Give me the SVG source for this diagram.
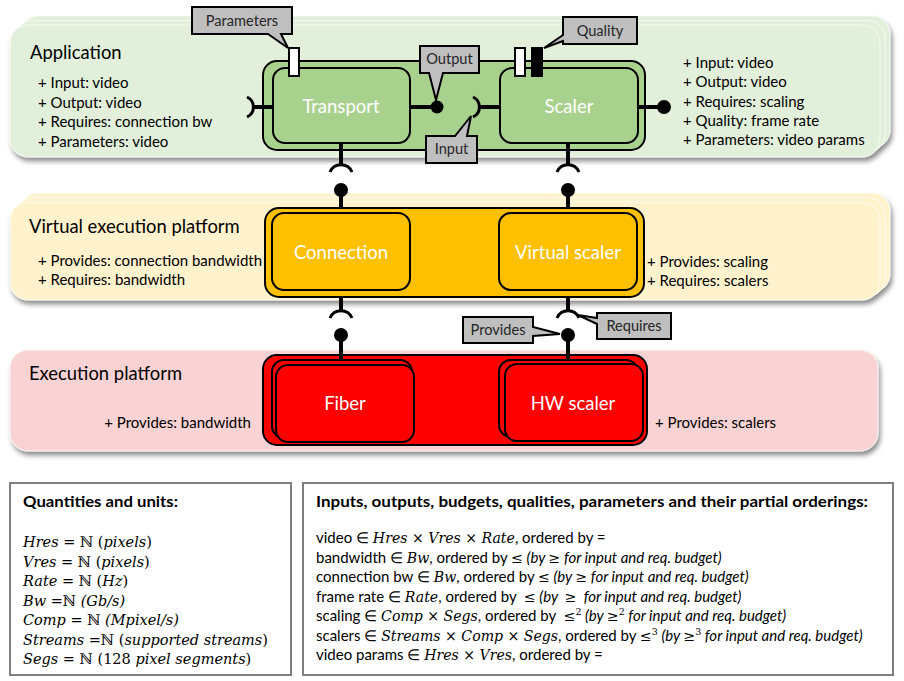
<svg xmlns="http://www.w3.org/2000/svg" width="904" height="681" viewBox="0 0 904 681">
<defs>
<filter id="sh" x="-5%" y="-10%" width="112%" height="130%">
<feDropShadow dx="2" dy="4" stdDeviation="2.5" flood-color="#000" flood-opacity="0.45"/>
</filter>
</defs>
<style>
text{font-family:Lato,"Liberation Sans",sans-serif;fill:#000}
.h{font-size:18.4px}
.t{font-size:15px}
.nl{font-size:18.5px;fill:#fff;text-anchor:middle}
.cl{font-size:14.6px;fill:#262626;text-anchor:middle}
.m{font-family:"DejaVu Serif","Liberation Serif",serif;font-size:14.5px}
.i{font-style:italic}
.mi{font-family:"DejaVu Serif","Liberation Serif",serif;font-style:italic;font-size:14.1px}
.mu{font-family:"DejaVu Serif","Liberation Serif",serif;font-style:normal;font-size:14.1px}
.sup{font-family:"DejaVu Serif","Liberation Serif",serif;font-style:normal;font-size:9.5px}
.card{stroke:#fff;stroke-opacity:0.7;stroke-width:1}
.box{stroke:#000;stroke-width:2}
.co{fill:#BFBFBF;stroke:#000;stroke-width:2;stroke-linejoin:miter}
.ln{stroke:#000;stroke-width:4;fill:none}
.sk{stroke:#000;stroke-width:3;fill:none}
.port{stroke:#000;stroke-width:2}
.leg{fill:#fff;stroke:#7F7F7F;stroke-width:2}
</style>

<g id="layer-application" filter="url(#sh)">
<rect class="card" x="20" y="16" width="870" height="132" rx="18" fill="#E2EFDA"/>
<rect class="card" x="15" y="20.5" width="870" height="132" rx="18" fill="#E2EFDA"/>
<rect class="card" x="10" y="25" width="870" height="132" rx="18" fill="#E2EFDA"/>
</g>
<g id="layer-virtual" filter="url(#sh)">
<rect class="card" x="20" y="193" width="870" height="99" rx="18" fill="#FFF2CC"/>
<rect class="card" x="15" y="197.5" width="870" height="99" rx="18" fill="#FFF2CC"/>
<rect class="card" x="10" y="202" width="870" height="98" rx="18" fill="#FFF2CC"/>
</g>
<g id="layer-execution" filter="url(#sh)">
<rect class="card" x="10" y="350" width="868" height="101" rx="18" fill="#F9D3D3"/>
</g>

<g id="layer-texts">
<text class="h" x="30" y="59">Application</text>
<text class="t" x="38" y="88">+ Input: video</text>
<text class="t" x="38" y="107.5">+ Output: video</text>
<text class="t" x="38" y="127">+ Requires: connection bw</text>
<text class="t" x="38" y="146.5">+ Parameters: video</text>
<text class="t" x="683" y="68">+ Input: video</text>
<text class="t" x="683" y="87">+ Output: video</text>
<text class="t" x="683" y="107">+ Requires: scaling</text>
<text class="t" x="683" y="126">+ Quality: frame rate</text>
<text class="t" x="683" y="145">+ Parameters: video params</text>
<text class="h" x="29" y="233">Virtual execution platform</text>
<text class="t" x="38" y="266">+ Provides: connection bandwidth</text>
<text class="t" x="38" y="285">+ Requires: bandwidth</text>
<text class="t" x="647" y="267">+ Provides: scaling</text>
<text class="t" x="647" y="286">+ Requires: scalers</text>
<text class="h" x="29" y="380">Execution platform</text>
<text class="t" x="251" y="428" text-anchor="end">+ Provides: bandwidth</text>
<text class="t" x="655" y="428">+ Provides: scalers</text>
</g>

<g id="node-app-container">
<rect class="box" x="263" y="61" width="382" height="89" rx="14" fill="#A9D18E"/>
</g>
<g id="node-transport">
<rect class="box" x="273" y="68" width="137" height="75" rx="12" fill="#A9D18E"/>
<text class="nl" x="341" y="113">Transport</text>
<rect class="port" x="289" y="48" width="10" height="28" fill="#fff"/>
</g>
<g id="node-scaler">
<rect class="box" x="500" y="68" width="138" height="75" rx="12" fill="#A9D18E"/>
<text class="nl" x="569" y="113">Scaler</text>
<rect class="port" x="515" y="48" width="10" height="28" fill="#fff"/>
<rect class="port" x="532" y="48" width="10" height="28" fill="#000"/>
</g>

<g id="node-virtual-container">
<rect class="box" x="265" y="208" width="379" height="89" rx="14" fill="#FFC000"/>
</g>
<g id="node-connection">
<rect class="box" x="272" y="213" width="138" height="77" rx="12" fill="#FFC000"/>
<text class="nl" x="341" y="259">Connection</text>
</g>
<g id="node-virtual-scaler">
<rect class="box" x="499" y="213" width="138" height="77" rx="12" fill="#FFC000"/>
<text class="nl" x="568" y="259">Virtual scaler</text>
</g>

<g id="node-exec-container">
<rect class="box" x="263" y="355" width="384" height="90" rx="14" fill="#FF0000"/>
</g>
<g id="node-fiber">
<rect class="box" x="272" y="360" width="140" height="78" rx="12" fill="#FF0000"/>
<rect class="box" x="276" y="365" width="138" height="77" rx="12" fill="#FF0000"/>
<text class="nl" x="345" y="410">Fiber</text>
</g>
<g id="node-hw-scaler">
<rect class="box" x="499" y="360" width="139" height="77" rx="12" fill="#FF0000"/>
<rect class="box" x="505" y="364" width="138" height="77" rx="12" fill="#FF0000"/>
<text class="nl" x="573" y="410">HW scaler</text>
</g>

<g id="connectors">
<rect x="321" y="180" width="41" height="13" fill="#fff"/>
<rect x="548" y="180" width="41" height="13" fill="#fff"/>
<line class="ln" x1="254" y1="107" x2="273" y2="107"/>
<path class="sk" d="M247,97 A11,11 0 0 1 247,117"/>
<line class="ln" x1="410" y1="107" x2="432" y2="107"/>
<circle cx="437" cy="107" r="6.5"/>
<path class="sk" d="M473,97 A11,11 0 0 1 473,117"/>
<line class="ln" x1="479" y1="107" x2="500" y2="107"/>
<line class="ln" x1="638" y1="107" x2="660" y2="107"/>
<circle cx="664" cy="107" r="7"/>
<line class="ln" x1="341" y1="143" x2="341" y2="166"/>
<path class="sk" d="M330,172 A12,12 0 0 1 352,172"/>
<circle cx="341" cy="190" r="7"/>
<line class="ln" x1="341" y1="190" x2="341" y2="208"/>
<line class="ln" x1="568" y1="143" x2="568" y2="166"/>
<path class="sk" d="M557,172 A12,12 0 0 1 579,172"/>
<circle cx="568" cy="190" r="7"/>
<line class="ln" x1="568" y1="190" x2="568" y2="208"/>
<line class="ln" x1="341" y1="297" x2="341" y2="312"/>
<path class="sk" d="M330,318 A12,12 0 0 1 352,318"/>
<circle cx="341" cy="335" r="7"/>
<line class="ln" x1="341" y1="335" x2="341" y2="360"/>
<line class="ln" x1="568" y1="297" x2="568" y2="312"/>
<path class="sk" d="M557,318 A12,12 0 0 1 579,318"/>
<circle cx="568" cy="335" r="7"/>
<line class="ln" x1="568" y1="335" x2="568" y2="360"/>
</g>

<g id="callouts">
<path class="co" d="M192,7 H292 V34 H281 L288,48 L268,34 H192 Z"/>
<text class="cl" x="242" y="26">Parameters</text>
<path class="co" d="M420,46 H479 V73 H443 L436,100 L429,73 H420 Z"/>
<text class="cl" x="449.5" y="64">Output</text>
<path class="co" d="M426,136 H455 L471,116 L467,136 H477 V163 H426 Z"/>
<text class="cl" x="451.5" y="154">Input</text>
<path class="co" d="M563,17 H637 V44 H563 V41 L544,48 L563,35 Z"/>
<text class="cl" x="600" y="36">Quality</text>
<path class="co" d="M463,317 H533 V327 L560,334 L533,336 V343 H463 Z"/>
<text class="cl" x="498" y="335">Provides</text>
<path class="co" d="M597,313 H671 V339 H597 V324 L578,315 L597,318 Z"/>
<text class="cl" x="634" y="331">Requires</text>
</g>

<g id="legend-quantities">
<rect class="leg" x="10" y="483" width="281" height="192"/>
<text class="t" x="23" y="507" font-weight="bold" textLength="155" lengthAdjust="spacingAndGlyphs">Quantities and units:</text>
<text class="m" x="23" y="547"><tspan class="i">Hres</tspan> = ℕ (<tspan class="i">pixels</tspan>)</text>
<text class="m" x="23" y="566.5"><tspan class="i">Vres</tspan> = ℕ (<tspan class="i">pixels</tspan>)</text>
<text class="m" x="23" y="586"><tspan class="i">Rate</tspan> = ℕ (<tspan class="i">Hz</tspan>)</text>
<text class="m" x="23" y="605.5"><tspan class="i">Bw</tspan> =ℕ <tspan class="i">(Gb/s)</tspan></text>
<text class="m" x="23" y="625"><tspan class="i">Comp</tspan> = ℕ <tspan class="i">(Mpixel/s)</tspan></text>
<text class="m" x="23" y="644.5"><tspan class="i">Streams</tspan> =ℕ (<tspan class="i">supported streams</tspan>)</text>
<text class="m" x="23" y="664"><tspan class="i">Segs</tspan> = ℕ (128 <tspan class="i">pixel segments</tspan>)</text>
</g>

<g id="legend-orderings">
<rect class="leg" x="303" y="483" width="590" height="192"/>
<text class="t" x="316" y="507" font-weight="bold" textLength="552" lengthAdjust="spacingAndGlyphs">Inputs, outputs, budgets, qualities, parameters and their partial orderings:</text>
<text class="t" x="316" y="543">video ∈ <tspan class="mi">Hres</tspan><tspan class="mu"> × </tspan><tspan class="mi">Vres</tspan><tspan class="mu"> × </tspan><tspan class="mi">Rate</tspan>, ordered by =</text>
<text class="t" x="316" y="562.5">bandwidth ∈ <tspan class="mi">Bw</tspan>, ordered by <tspan class="mu">≤</tspan><tspan class="i"> (by </tspan><tspan class="mu">≥</tspan><tspan class="i"> for input and req. budget)</tspan></text>
<text class="t" x="316" y="582">connection bw ∈ <tspan class="mi">Bw</tspan>, ordered by <tspan class="mu">≤</tspan><tspan class="i"> (by </tspan><tspan class="mu">≥</tspan><tspan class="i"> for input and req. budget)</tspan></text>
<text class="t" x="316" y="601.5" xml:space="preserve">frame rate ∈ <tspan class="mi">Rate</tspan>, ordered by  <tspan class="mu">≤</tspan><tspan class="i"> (by  </tspan><tspan class="mu">≥</tspan><tspan class="i">  for input and req. budget)</tspan></text>
<text class="t" x="316" y="621" xml:space="preserve">scaling ∈ <tspan class="mi">Comp</tspan><tspan class="mu"> × </tspan><tspan class="mi">Segs</tspan>, ordered by  <tspan class="mu">≤</tspan><tspan class="sup" dy="-6">2</tspan><tspan class="i" dy="6"> (by </tspan><tspan class="mu">≥</tspan><tspan class="sup" dy="-6">2</tspan><tspan class="i" dy="6"> for input and req. budget)</tspan></text>
<text class="t" x="316" y="640.5">scalers ∈ <tspan class="mi">Streams</tspan><tspan class="mu"> × </tspan><tspan class="mi">Comp</tspan><tspan class="mu"> × </tspan><tspan class="mi">Segs</tspan>, ordered by <tspan class="mu">≤</tspan><tspan class="sup" dy="-6">3</tspan><tspan class="i" dy="6"> (by </tspan><tspan class="mu">≥</tspan><tspan class="sup" dy="-6">3</tspan><tspan class="i" dy="6"> for input and req. budget)</tspan></text>
<text class="t" x="316" y="660">video params ∈ <tspan class="mi">Hres</tspan><tspan class="mu"> × </tspan><tspan class="mi">Vres</tspan>, ordered by =</text>
</g>
</svg>
